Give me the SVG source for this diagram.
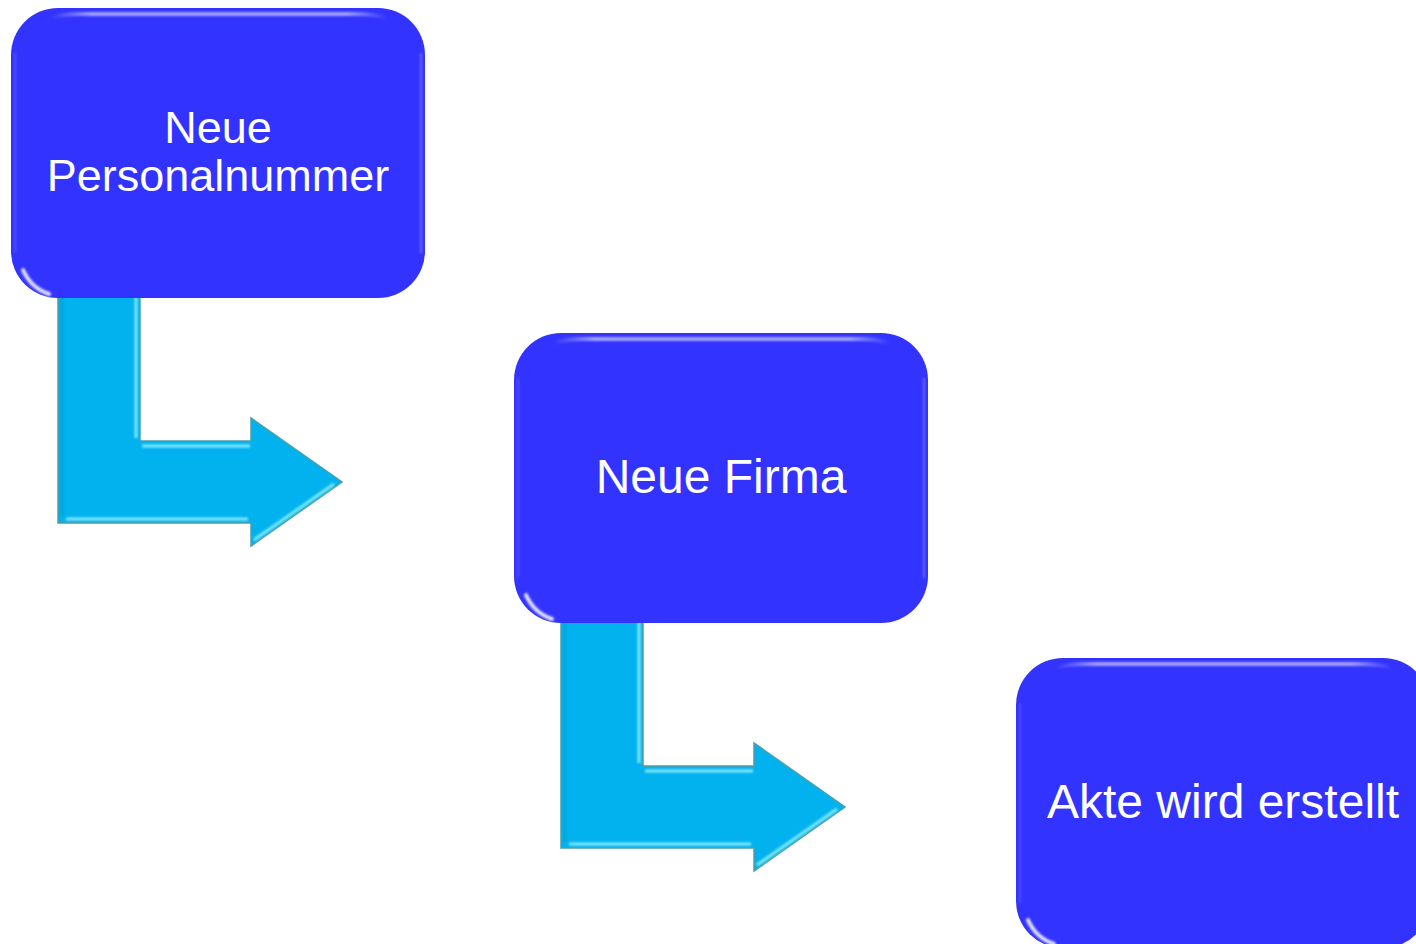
<svg xmlns="http://www.w3.org/2000/svg" width="1416" height="944" viewBox="0 0 1416 944">
  <style>
    .box { fill: #3333FF; }
    .glint { fill: none; stroke: #FFFFFF; stroke-width: 4; stroke-linecap: round; opacity: 0.85; }
    .label { font-family: "Liberation Sans", Arial, sans-serif; fill: #FFFFFF; text-anchor: middle; }
    .arrow { fill: #02B2EE; stroke: #4C9EA8; stroke-width: 1.5; stroke-linejoin: miter; }
    .arrowhl { fill: none; stroke: #8FEFFF; stroke-width: 3; opacity: 0.9; }
    .arrowdk { fill: none; stroke: #0A93C4; stroke-width: 3; opacity: 0.5; }
  </style>
  <defs>
    <filter id="soft" filterUnits="userSpaceOnUse" x="-60" y="-60" width="560" height="420">
      <feGaussianBlur stdDeviation="1.2"/>
    </filter>
    <linearGradient id="topfade" x1="0" y1="0" x2="1" y2="0">
      <stop offset="0" stop-color="#A0A0FF" stop-opacity="0"/>
      <stop offset="0.12" stop-color="#A0A0FF" stop-opacity="1"/>
      <stop offset="0.88" stop-color="#A0A0FF" stop-opacity="1"/>
      <stop offset="1" stop-color="#A0A0FF" stop-opacity="0"/>
    </linearGradient>
    <g id="boxshape">
      <rect class="box" x="0" y="0" width="414" height="290" rx="47" ry="47"/>
      <path d="M40,10 Q50,6 70,6 L344,6 Q364,6 376,10" fill="none" stroke="url(#topfade)" stroke-width="4" filter="url(#soft)"/>
      <path d="M4,45 L4,245" fill="none" stroke="#6A6AFF" stroke-width="2" opacity="0.5" filter="url(#soft)"/>
      <path d="M410,45 L410,245" fill="none" stroke="#8C8CFF" stroke-width="2" opacity="0.6" filter="url(#soft)"/>
      <path class="glint" d="M12,262 Q20,280 38,286" filter="url(#soft)"/>
    </g>
    <g id="arrowshape">
      <path class="arrow" d="M0,-8 L82,-8 L82,143 L193,143 L193,120 L284,184 L193,248 L193,225 L0,225 Z"/>
      <path class="arrowhl" d="M78,-6 L78,140" filter="url(#soft)"/>
      <path class="arrowhl" d="M84,148 L192,148" opacity="0.5" filter="url(#soft)"/>
      <path class="arrowhl" d="M8,221 L190,221" filter="url(#soft)"/>
      <path class="arrowhl" d="M196,242 L276,186" opacity="0.5" filter="url(#soft)"/>
      <path class="arrowdk" d="M4,-6 L4,218" filter="url(#soft)"/>
    </g>
  </defs>

  <g id="connectors">
    <use href="#arrowshape" transform="translate(58,298)"/>
    <use href="#arrowshape" transform="translate(561,623)"/>
  </g>

  <g id="node1">
    <use href="#boxshape" transform="translate(11,8)"/>
    <text class="label" x="218" y="143" font-size="45">Neue</text>
    <text class="label" x="218" y="191" font-size="45">Personalnummer</text>
  </g>

  <g id="node2">
    <use href="#boxshape" transform="translate(514,333)"/>
    <text class="label" x="721" y="493" font-size="48">Neue Firma</text>
  </g>

  <g id="node3">
    <use href="#boxshape" transform="translate(1016,658)"/>
    <text class="label" x="1223" y="818" font-size="48">Akte wird erstellt</text>
  </g>
</svg>
